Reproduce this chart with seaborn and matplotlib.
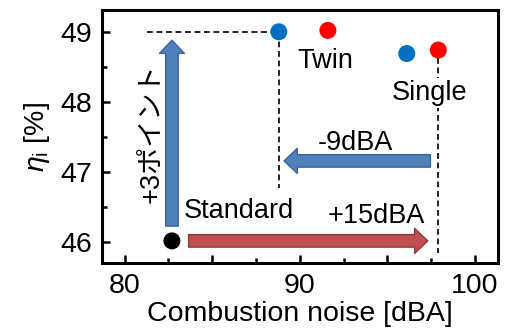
import matplotlib
matplotlib.use("Agg")
import matplotlib.pyplot as plt
import seaborn as sns
import pandas as pd
from matplotlib.ticker import MultipleLocator

# ---- data ----
point_names = ["Standard", "Twin-blue", "Twin-red", "Single-blue", "Single-red"]
noise = [82.7, 88.8, 91.6, 96.1, 97.9]
eta = [46.02, 49.0, 49.02, 48.69, 48.74]
point_colors = ["#000000", "#0070C0", "#FF0000", "#0070C0", "#FF0000"]

# arrows: (x_start, y_start, x_end, y_end)
arrow_up = (82.7, 46.23, 82.7, 48.88)        # +3 points efficiency
arrow_right = (83.65, 46.02, 97.3, 46.02)    # +15 dBA
arrow_left = (97.45, 47.16, 89.1, 47.16)     # -9 dBA

text_labels = ["Twin", "Single", "-9dBA", "+15dBA", "Standard"]
text_x = [91.44, 97.38, 93.15, 94.34, 86.5]
text_y = [48.48, 48.03, 47.315, 46.27, 46.34]

df = pd.DataFrame({"name": point_names, "noise": noise, "eta": eta})

sns.set_style("white")
plt.rcParams["font.family"] = ["Liberation Sans", "Noto Sans CJK JP", "DejaVu Sans"]
plt.rcParams["mathtext.fontset"] = "custom"
plt.rcParams["mathtext.rm"] = "Liberation Sans"
plt.rcParams["mathtext.it"] = "Liberation Sans:italic"
for k in ["text.color", "axes.labelcolor", "xtick.color", "ytick.color", "axes.edgecolor"]:
    plt.rcParams[k] = "black"

fig = plt.figure(figsize=(5.17, 3.35), dpi=100)
ax = fig.add_axes([0.197, 0.215, 0.766, 0.755])

# dashed guide lines
dash = (0, (3.5, 2.2))
ax.plot([81.3, noise[1]], [49.0, 49.0], color="black", lw=1.2, ls=dash, zorder=1)
ax.plot([noise[1], noise[1]], [49.0, 46.77], color="black", lw=1.2, ls=dash, zorder=1)
ax.plot([noise[4], noise[4]], [48.62, 45.85], color="black", lw=1.2, ls=dash, zorder=1)

sns.scatterplot(data=df, x="noise", y="eta", hue="name",
                palette=dict(zip(point_names, point_colors)),
                s=150, edgecolor="none", legend=False, ax=ax, zorder=5)

def arrow(coords, fc, ec):
    x0, y0, x1, y1 = coords
    ax.annotate("", xy=(x1, y1), xytext=(x0, y0),
                arrowprops=dict(arrowstyle="simple,head_length=9.5,head_width=18,tail_width=9",
                                mutation_scale=1, fc=fc, ec=ec, lw=1.0,
                                shrinkA=0, shrinkB=0), zorder=3)

arrow(arrow_up, "#4F81BD", "#3A6595")
arrow(arrow_right, "#C0504D", "#8C3A38")
arrow(arrow_left, "#4F81BD", "#3A6595")

for lab, tx, ty in zip(text_labels, text_x, text_y):
    kw = {}
    if lab == "Single":
        kw["bbox"] = dict(facecolor="white", edgecolor="none", pad=1.5)
    ax.text(tx, ty, lab, ha="center", va="baseline", fontsize=19.5, zorder=4,
            color="black", **kw)

ax.text(81.55, 47.56, "+3ポイント", rotation=90, ha="center", va="center",
        fontsize=19.5, zorder=4, color="black")

ax.set_xlim(78.7, 101.3)
ax.set_ylim(45.705, 49.31)
ax.xaxis.set_major_locator(MultipleLocator(5))
ax.xaxis.set_minor_locator(MultipleLocator(2.5))
ax.yaxis.set_major_locator(MultipleLocator(1))
ax.yaxis.set_minor_locator(MultipleLocator(0.5))
ax.set_xticks([80, 85, 90, 95, 100])
ax.set_xticklabels(["80", "", "90", "", "100"])
ax.tick_params(which="both", bottom=True, left=True, top=False, right=False,
               direction="in", width=1.8, colors="black")
ax.tick_params(which="major", length=5.5, labelsize=20.5, pad=7)
ax.tick_params(which="minor", length=3.5)
for sp in ax.spines.values():
    sp.set_linewidth(2.2)
    sp.set_color("black")

ax.set_xlabel("Combustion noise [dBA]", fontsize=20.5, labelpad=2)
ax.set_ylabel(r"$\eta_\mathrm{i}$ [%]", fontsize=20.5, labelpad=6)

fig.savefig("out.png", dpi=100)
